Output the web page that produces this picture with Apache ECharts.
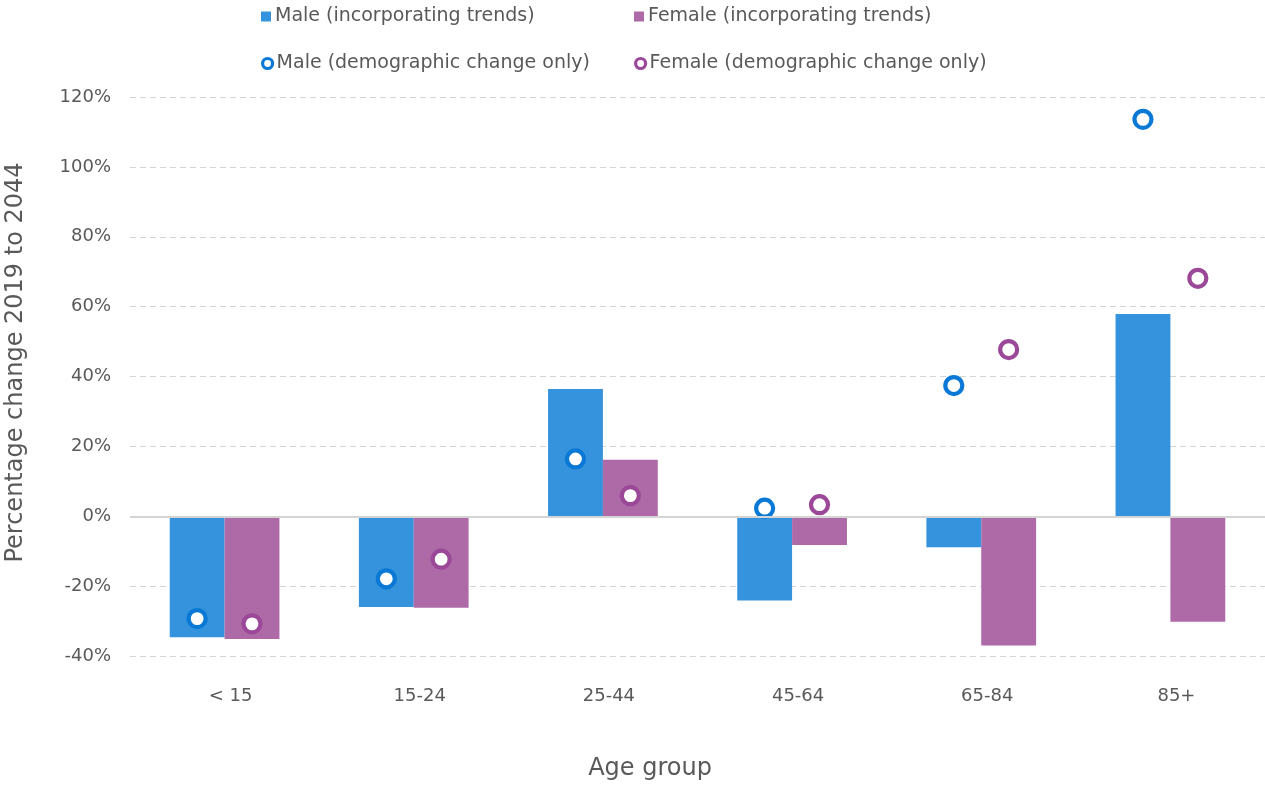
<!DOCTYPE html>
<html>
<head>
<meta charset="utf-8">
<title>Percentage change 2019 to 2044 by age group</title>
<script src="https://cdn.jsdelivr.net/npm/echarts@6/dist/echarts.min.js"></script>
<style>
  html, body { margin: 0; padding: 0; background: #ffffff; }
  #chart { width: 1265px; height: 785px; }
</style>
</head>
<body>
<div id="chart"></div>
<script>
// Age groups along the horizontal axis
const categories = ['< 15', '15-24', '25-44', '45-64', '65-84', '85+'];

// Percentage change 2019 to 2044, incorporating trends (bars)
const maleTrends   = [-34.6, -26.0, 36.4, -24.1, -8.9, 57.9];
const femaleTrends = [-35.1, -26.2, 16.2, -8.2, -37.0, -30.2];

// Percentage change 2019 to 2044, demographic change only (ring markers)
const maleDemographic   = [-29.3, -17.9, 16.4, 2.3, 37.4, 113.6];
const femaleDemographic = [-30.8, -12.3, 5.9, 3.3, 47.7, 68.1];

const seriesNames = {
  maleTrends: 'Male (incorporating trends)',
  femaleTrends: 'Female (incorporating trends)',
  maleDemographic: 'Male (demographic change only)',
  femaleDemographic: 'Female (demographic change only)'
};

const FONT = 'DejaVu Sans';
const TEXT_COLOR = '#595959';
const MALE_BAR = '#3592dc';
const FEMALE_BAR = '#ae69a7';
const MALE_RING = '#0a79d6';
const FEMALE_RING = '#9b4898';
const CATEGORY_GAP = 0.42;

// Ring marker drawn over the centre of its matching bar (side -1 = left bar, +1 = right bar)
function ringRenderer(side, color) {
  return function (params, api) {
    const pt = api.coord([api.value(0), api.value(1)]);
    const band = api.size([1, 0])[0];
    const barWidth = band * (1 - CATEGORY_GAP) / 2;
    return {
      type: 'circle',
      shape: { cx: pt[0] + side * barWidth / 2, cy: pt[1], r: 8.5 },
      style: { fill: '#ffffff', stroke: color, lineWidth: 4.2 }
    };
  };
}

function legendFor(name, left, top, icon, itemStyle) {
  return {
    left: left,
    top: top,
    itemWidth: 10,
    itemHeight: 10,
    itemGap: 0,
    selectedMode: false,
    textStyle: { fontFamily: FONT, fontSize: 19, color: TEXT_COLOR, padding: [0, 0, 0, -1] },
    data: [{ name: name, icon: icon, itemStyle: itemStyle }]
  };
}

const chart = echarts.init(document.getElementById('chart'), null, { renderer: 'canvas' });

chart.setOption({
  animation: false,
  backgroundColor: '#ffffff',
  textStyle: { fontFamily: FONT },
  legend: [
    legendFor(seriesNames.maleTrends, 256, 2, 'rect', { color: MALE_BAR }),
    legendFor(seriesNames.femaleTrends, 629, 2, 'rect', { color: FEMALE_BAR }),
    legendFor(seriesNames.maleDemographic, 256, 49, 'circle', { color: '#ffffff', borderColor: MALE_RING, borderWidth: 3.2 }),
    legendFor(seriesNames.femaleDemographic, 629, 49, 'circle', { color: '#ffffff', borderColor: FEMALE_RING, borderWidth: 3.2 })
  ],
  grid: { left: 130, right: 0, top: 97, bottom: 129, containLabel: false, outerBoundsMode: 'none' },
  xAxis: {
    type: 'category',
    data: categories,
    name: 'Age group',
    nameLocation: 'middle',
    nameGap: 101,
    nameTextStyle: { fontFamily: FONT, fontSize: 24, color: TEXT_COLOR, padding: [0, 95, 0, 0] },
    axisLine: { show: false, onZero: false },
    axisTick: { show: false },
    axisLabel: { margin: 31, fontFamily: FONT, fontSize: 18, color: TEXT_COLOR, padding: [0, 0, 0, 12] },
    splitLine: { show: false }
  },
  yAxis: {
    type: 'value',
    min: -40,
    max: 120,
    interval: 20,
    name: 'Percentage change 2019 to 2044',
    nameLocation: 'middle',
    nameGap: 102,
    nameRotate: 90,
    nameTextStyle: { fontFamily: FONT, fontSize: 24, color: TEXT_COLOR, padding: [0, 0, 0, 28] },
    axisLine: { show: false },
    axisTick: { show: false },
    axisLabel: { formatter: '{value}%', margin: 19, fontFamily: FONT, fontSize: 18, color: TEXT_COLOR },
    splitLine: { show: true, lineStyle: { color: '#d4d4d4', width: 1, type: [6, 4] } }
  },
  series: [
    {
      name: seriesNames.maleTrends,
      type: 'bar',
      data: maleTrends,
      barGap: '0%',
      barCategoryGap: (CATEGORY_GAP * 100) + '%',
      itemStyle: { color: MALE_BAR },
      markLine: {
        silent: true,
        symbol: ['none', 'none'],
        label: { show: false },
        lineStyle: { color: '#d4d4d4', width: 2, type: 'solid' },
        data: [{ yAxis: 0 }]
      }
    },
    {
      name: seriesNames.femaleTrends,
      type: 'bar',
      data: femaleTrends,
      barGap: '0%',
      barCategoryGap: (CATEGORY_GAP * 100) + '%',
      itemStyle: { color: FEMALE_BAR }
    },
    {
      name: seriesNames.maleDemographic,
      type: 'custom',
      z: 4,
      itemStyle: { color: MALE_RING },
      encode: { x: 0, y: 1 },
      data: maleDemographic.map((v, i) => [i, v]),
      renderItem: ringRenderer(-1, MALE_RING)
    },
    {
      name: seriesNames.femaleDemographic,
      type: 'custom',
      z: 4,
      itemStyle: { color: FEMALE_RING },
      encode: { x: 0, y: 1 },
      data: femaleDemographic.map((v, i) => [i, v]),
      renderItem: ringRenderer(1, FEMALE_RING)
    }
  ]
});
</script>
</body>
</html>
